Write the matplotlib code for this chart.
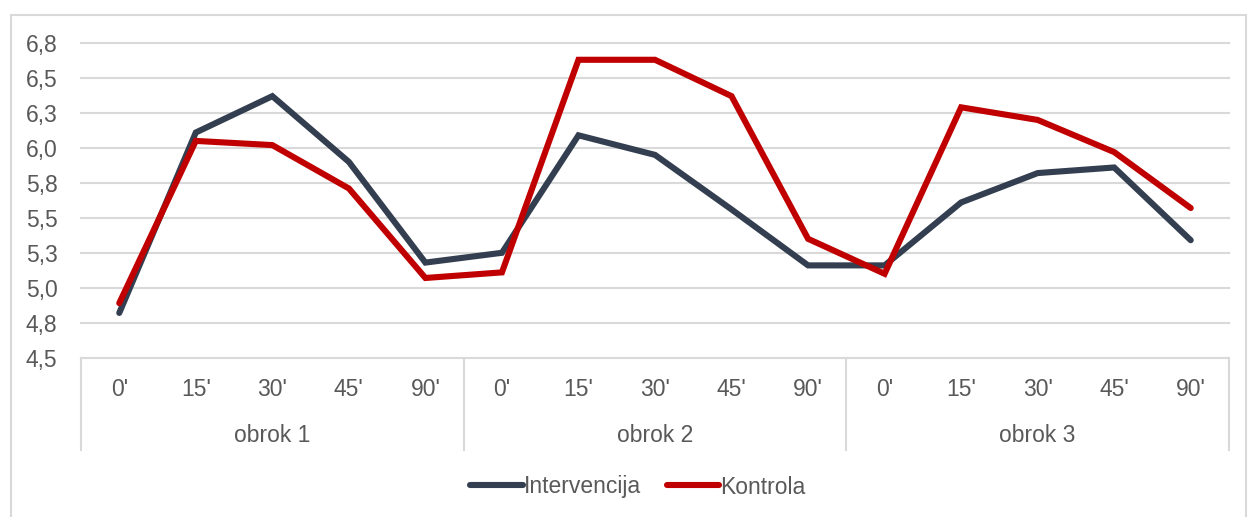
import matplotlib
matplotlib.use("Agg")
import matplotlib.pyplot as plt
from matplotlib.lines import Line2D
from matplotlib.patches import Rectangle
import matplotlib.transforms as mtransforms

plt.rcParams['font.family'] = ['Liberation Sans Narrow', 'Liberation Sans', 'DejaVu Sans']

times = ["0'", "15'", "30'", "45'", "90'"]
groups = ["obrok 1", "obrok 2", "obrok 3"]
intervencija = [4.82, 6.11, 6.37, 5.90, 5.18,
                5.25, 6.09, 5.95, 5.56, 5.16,
                5.16, 5.61, 5.82, 5.86, 5.34]
kontrola = [4.89, 6.05, 6.02, 5.71, 5.07,
            5.11, 6.63, 6.63, 6.37, 5.35,
            5.10, 6.29, 6.20, 5.97, 5.57]
yticks = [4.5, 4.75, 5.0, 5.25, 5.5, 5.75, 6.0, 6.25, 6.5, 6.75]
ylabels = ["4,5", "4,8", "5,0", "5,3", "5,5", "5,8", "6,0", "6,3", "6,5", "6,8"]

W, H = 1248, 517
txt = "#595959"
grid = "#D9D9D9"
fs = 16.5

fig = plt.figure(figsize=(W / 100, H / 100), dpi=100)
ax = fig.add_axes([81 / W, 1 - 357.7 / H, (1229 - 81) / W, (357.7 - 43) / H])

n = len(intervencija)
x = [i + 0.5 for i in range(n)]
l1, = ax.plot(x, intervencija, color="#333F50", lw=4.4, solid_joinstyle="miter", solid_capstyle="round")
l2, = ax.plot(x, kontrola, color="#C00000", lw=4.4, solid_joinstyle="miter", solid_capstyle="round")

ax.set_xlim(0, n)
ax.set_ylim(4.5, 6.75)
ax.set_yticks(yticks)
ax.set_yticklabels(ylabels, fontsize=fs, color=txt)
ax.tick_params(axis="y", length=0, pad=17)
ax.set_xticks([])
for s in ax.spines.values():
    s.set_visible(False)
for v in yticks:
    ax.axhline(v, color=grid, lw=1.5, zorder=0, clip_on=False)

tr = mtransforms.blended_transform_factory(ax.transData, fig.transFigure)
for i, xi in enumerate(x):
    ax.text(xi, 1 - 389 / H, times[i % 5], transform=tr, ha="center", va="center",
            fontsize=fs, color=txt)
for g, name in enumerate(groups):
    ax.text(g * 5 + 2.5, 1 - 436 / H, name, transform=tr, ha="center", va="center",
            fontsize=fs, color=txt)
for b in [0, 5, 10, 15]:
    fig.add_artist(Line2D([b, b], [1 - 357.7 / H, 1 - 450 / H], transform=tr, color=grid, lw=1.5))

fig.add_artist(Rectangle((11 / W, -0.05), (1246 - 11) / W, 1.05 - 15 / H, transform=fig.transFigure,
                         fill=False, edgecolor=grid, lw=1.5))

leg = fig.legend([l1, l2], ["Intervencija", "Kontrola"], loc="center",
                 bbox_to_anchor=(638 / W, 1 - 487 / H), ncol=2, frameon=False, fontsize=fs,
                 handlelength=2.3, handletextpad=0.05, columnspacing=1.1, labelcolor=txt)

fig.savefig("out.png", dpi=100)
